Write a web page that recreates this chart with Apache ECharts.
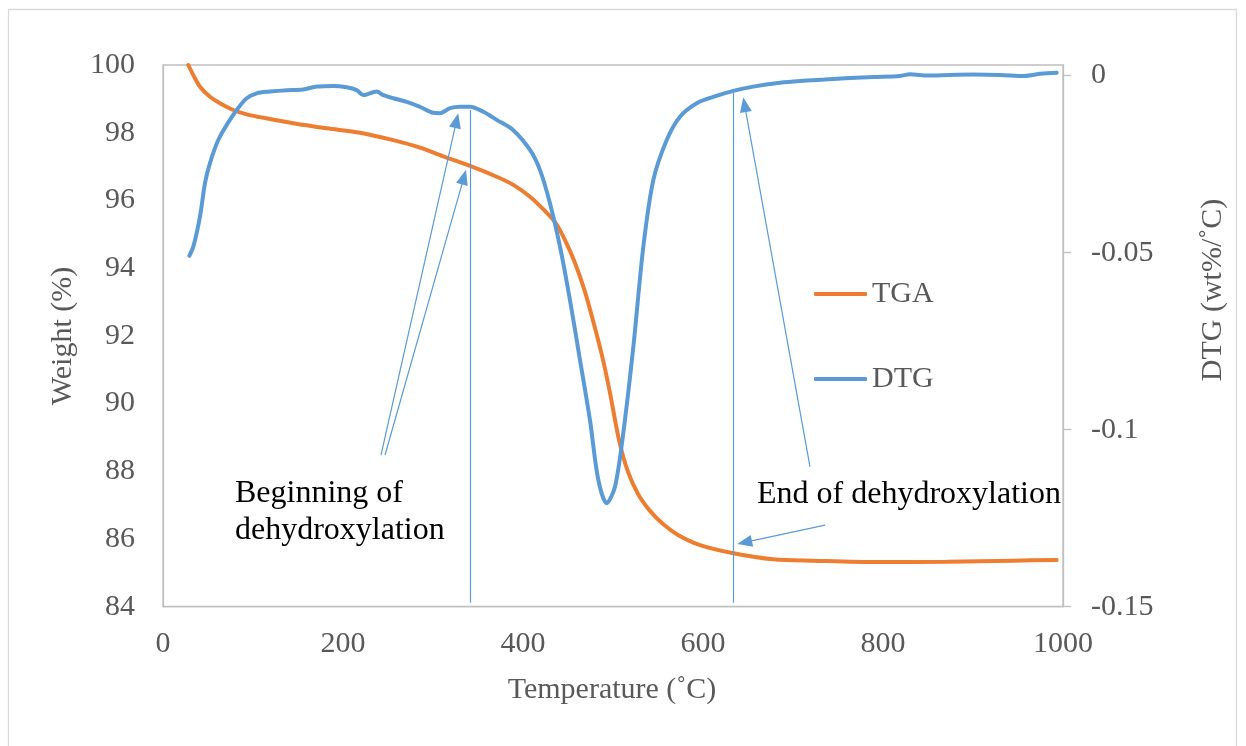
<!DOCTYPE html>
<html>
<head>
<meta charset="utf-8">
<script src="https://cdn.jsdelivr.net/npm/echarts@6/dist/echarts.min.js"></script>
<style>
  html, body { margin: 0; padding: 0; background: #fff; }
  #chart { width: 1246px; height: 746px; }
</style>
</head>
<body>
<div id="chart"></div>
<script>
// Thermogravimetric curve: temperature (°C) and sample weight (%)
const tgaTemp = [28.1, 33.7, 41.1, 52.2, 63.3, 78.1, 93.0, 107.8, 144.8, 181.9, 218.9, 255.9, 285.6, 311.4, 341.1, 370.8, 389.2, 407.8, 424.4, 435.6, 446.7, 457.8, 468.9, 480.0, 488.9, 496.7, 506.7, 516.7, 527.8, 541.1, 555.6, 572.2, 596.7, 633.7, 678.1, 722.6, 796.7, 870.7, 944.8, 993.0];
const tgaWeight = [100.00, 99.70, 99.36, 99.06, 98.87, 98.67, 98.54, 98.46, 98.28, 98.13, 98.00, 97.78, 97.56, 97.30, 97.02, 96.70, 96.46, 96.11, 95.69, 95.36, 94.83, 94.15, 93.30, 92.23, 91.29, 90.31, 88.92, 87.98, 87.33, 86.83, 86.44, 86.12, 85.82, 85.58, 85.40, 85.36, 85.32, 85.33, 85.36, 85.38];

// Derivative curve: temperature (°C) and DTG (wt%/°C)
const dtgTemp = [29.2, 33.7, 41.1, 46.7, 52.2, 61.4, 70.8, 81.9, 93.0, 104.1, 118.9, 137.4, 155.6, 170.8, 189.2, 204.1, 215.2, 222.6, 237.4, 244.8, 255.9, 270.8, 285.6, 300.3, 307.8, 318.9, 330.0, 341.1, 355.9, 370.8, 389.2, 407.8, 418.9, 430.0, 441.1, 452.2, 463.3, 474.4, 483.7, 493.0, 502.2, 511.4, 522.6, 533.7, 544.8, 559.7, 574.4, 593.0, 611.4, 633.7, 655.9, 685.6, 707.8, 735.0, 763.3, 790.0, 818.9, 830.0, 850.0, 874.4, 900.0, 930.0, 957.0, 975.0, 993.0];
const dtgValue = [-0.0509, -0.0483, -0.0398, -0.0303, -0.0247, -0.0182, -0.0139, -0.0097, -0.0064, -0.0050, -0.0045, -0.0041, -0.0039, -0.0031, -0.0029, -0.0033, -0.0041, -0.0055, -0.0045, -0.0055, -0.0064, -0.0074, -0.0088, -0.0105, -0.0106, -0.0092, -0.0088, -0.0088, -0.0102, -0.0125, -0.0154, -0.0210, -0.0267, -0.0361, -0.0483, -0.0634, -0.0803, -0.0973, -0.1142, -0.1208, -0.1161, -0.1010, -0.0766, -0.0483, -0.0295, -0.0182, -0.0116, -0.0078, -0.0060, -0.0043, -0.0031, -0.0020, -0.0015, -0.0011, -0.0007, -0.0004, -0.0001, 0.0004, 0.0000, 0.0002, 0.0003, 0.0002, -0.0001, 0.0005, 0.0008];

// Axis tick values
const xTicks = [0, 200, 400, 600, 800, 1000];
const weightTicks = [84, 86, 88, 90, 92, 94, 96, 98, 100];
const dtgTicks = [-0.15, -0.1, -0.05, 0];

// Annotation guides, in (temperature, weight %) units
const onsetTemp = 341.7;
const endTemp = 633.9;
const guideBottom = 84.12;
const onsetGuideTop = 98.67;
const endGuideTop = 99.26;
const onsetArrows = [
  [[242.2, 88.48], [326.2, 98.36]],
  [[246.7, 88.48], [334.4, 96.69]]
];
const endArrows = [
  [[718.9, 88.13], [646.2, 98.83]],
  [[735.6, 86.41], [646.2, 85.90]]
];

const GRAY = '#595959';
const AXIS_GRAY = '#BFBFBF';
const ORANGE = '#ED7D31';
const BLUE = '#5B9BD5';
const FONT = 'Liberation Serif';

const tgaData = tgaTemp.map((t, i) => [t, tgaWeight[i]]);
const dtgData = dtgTemp.map((t, i) => [t, dtgValue[i]]);

const guideLines = [
  [{ coord: [onsetTemp, onsetGuideTop], symbol: 'none' }, { coord: [onsetTemp, guideBottom], symbol: 'none' }],
  [{ coord: [endTemp, endGuideTop], symbol: 'none' }, { coord: [endTemp, guideBottom], symbol: 'none' }]
].concat(
  onsetArrows.concat(endArrows).map(a => [
    { coord: a[0], symbol: 'none' },
    { coord: a[1], symbol: 'triangle', symbolSize: [12, 15] }
  ])
);

const legendText = { fontFamily: FONT, fontSize: 30, color: GRAY };

const chart = echarts.init(document.getElementById('chart'), null, { renderer: 'canvas' });

chart.setOption({
  animation: false,
  backgroundColor: '#ffffff',
  textStyle: { fontFamily: FONT },
  grid: {
    left: 163, top: 65, right: 183, bottom: 139.3,
    show: true, borderColor: AXIS_GRAY, borderWidth: 1.3, backgroundColor: 'transparent'
  },
  legend: [
    {
      data: ['TGA'], orient: 'vertical', left: 814, top: 279, padding: 0,
      icon: 'roundRect', itemWidth: 53, itemHeight: 4, itemGap: 0,
      textStyle: legendText
    },
    {
      data: ['DTG'], orient: 'vertical', left: 814, top: 364, padding: 0,
      icon: 'roundRect', itemWidth: 53, itemHeight: 4, itemGap: 0,
      textStyle: legendText
    }
  ],
  xAxis: {
    type: 'value', min: 0, max: 1000, interval: 200,
    splitLine: { show: false },
    axisLine: { show: true, onZero: false, lineStyle: { color: AXIS_GRAY, width: 1.3 } },
    axisTick: { show: false },
    axisLabel: {
      customValues: xTicks, margin: 22,
      fontFamily: FONT, fontSize: 30, color: GRAY,
      formatter: v => String(v)
    }
  },
  yAxis: [
    {
      type: 'value', min: 84, max: 100, interval: 2, position: 'left',
      splitLine: { show: false },
      axisLine: { show: true, onZero: false, lineStyle: { color: AXIS_GRAY, width: 1.3 } },
      axisTick: { show: false },
      axisLabel: {
        customValues: weightTicks, margin: 28,
        fontFamily: FONT, fontSize: 30, color: GRAY,
        formatter: v => String(v)
      }
    },
    {
      type: 'value', min: -0.15, max: 0.003, position: 'right',
      splitLine: { show: false },
      axisLine: { show: true, onZero: false, lineStyle: { color: AXIS_GRAY, width: 1.3 } },
      axisTick: {
        show: true, inside: false, length: 8, customValues: dtgTicks,
        lineStyle: { color: AXIS_GRAY, width: 1.3 }
      },
      axisLabel: {
        customValues: dtgTicks, margin: 28,
        fontFamily: FONT, fontSize: 30, color: GRAY,
        formatter: v => String(v)
      }
    }
  ],
  series: [
    {
      name: 'TGA', type: 'line', yAxisIndex: 0, data: tgaData,
      showSymbol: false, symbol: 'none', smooth: 0.3,
      lineStyle: { color: ORANGE, width: 4, cap: 'round' },
      itemStyle: { color: ORANGE },
      z: 2,
      markLine: {
        silent: true, animation: false,
        lineStyle: { color: BLUE, width: 1.2, type: 'solid' },
        itemStyle: { color: BLUE },
        label: { show: false },
        emphasis: { disabled: true },
        data: guideLines
      }
    },
    {
      name: 'DTG', type: 'line', yAxisIndex: 1, data: dtgData,
      showSymbol: false, symbol: 'none', smooth: 0.3,
      lineStyle: { color: BLUE, width: 4, cap: 'round' },
      itemStyle: { color: BLUE },
      z: 3
    }
  ],
  graphic: [
    {
      type: 'rect', silent: true, z: -10,
      shape: { x: 8.5, y: 9.5, width: 1228, height: 760 },
      style: { fill: '#ffffff', stroke: '#D9D9D9', lineWidth: 1.3 }
    },
    {
      type: 'text', x: 612, y: 690, silent: true,
      style: { text: 'Temperature (˚C)', fontFamily: FONT, fontSize: 30, fill: GRAY, align: 'center', verticalAlign: 'middle' }
    },
    {
      type: 'text', x: 63, y: 336, rotation: Math.PI / 2, silent: true,
      style: { text: 'Weight (%)', fontFamily: FONT, fontSize: 30, fill: GRAY, align: 'center', verticalAlign: 'middle' }
    },
    {
      type: 'text', x: 1213, y: 290, rotation: Math.PI / 2, silent: true,
      style: { text: 'DTG (wt%/˚C)', fontFamily: FONT, fontSize: 30, fill: GRAY, align: 'center', verticalAlign: 'middle' }
    },
    {
      type: 'text', x: 235, y: 494, silent: true,
      style: { text: 'Beginning of', fontFamily: FONT, fontSize: 32, fill: '#000000', align: 'left', verticalAlign: 'middle' }
    },
    {
      type: 'text', x: 235, y: 531, silent: true,
      style: { text: 'dehydroxylation', fontFamily: FONT, fontSize: 32, fill: '#000000', align: 'left', verticalAlign: 'middle' }
    },
    {
      type: 'text', x: 757, y: 495, silent: true,
      style: { text: 'End of dehydroxylation', fontFamily: FONT, fontSize: 32, fill: '#000000', align: 'left', verticalAlign: 'middle' }
    }
  ]
});
</script>
</body>
</html>
